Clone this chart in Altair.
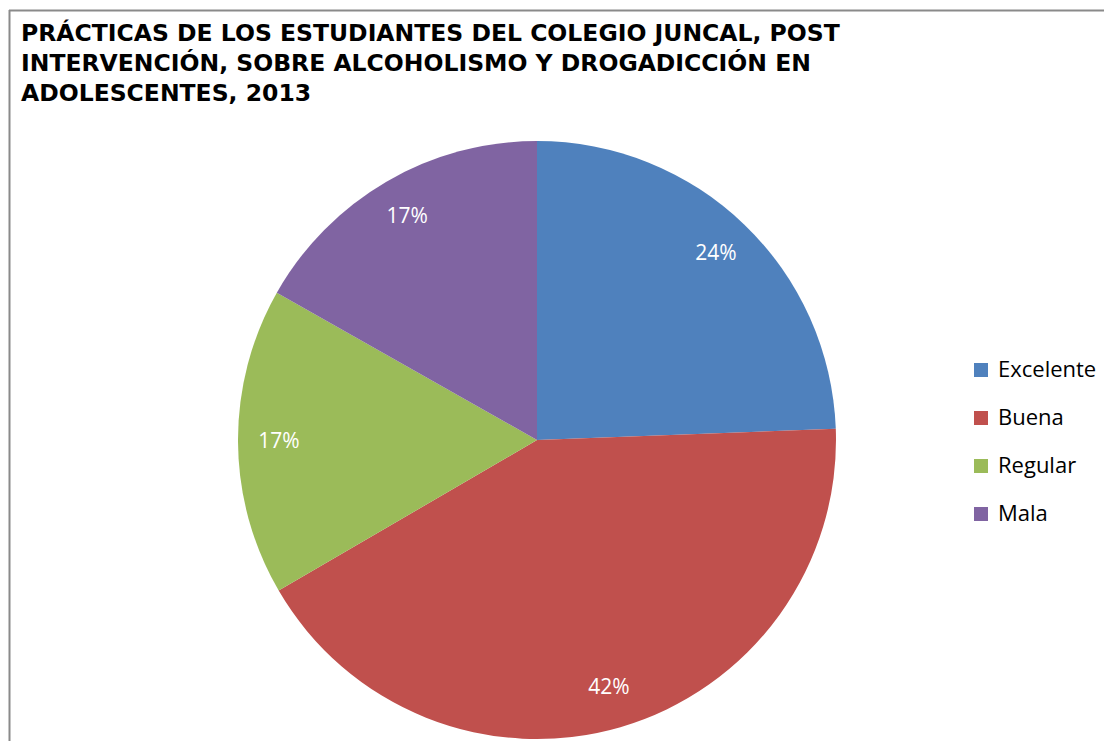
import altair as alt
import pandas as pd

TITLE_LINES = [
    "PRÁCTICAS DE LOS ESTUDIANTES DEL COLEGIO JUNCAL, POST",
    "INTERVENCIÓN, SOBRE ALCOHOLISMO Y DROGADICCIÓN EN",
    "ADOLESCENTES, 2013",
]
CATEGORIES = ["Excelente", "Buena", "Regular", "Mala"]
VALUES = [24.4, 42.2, 16.6, 16.8]
LABELS = ["24%", "42%", "17%", "17%"]
COLORS = ["#4F81BD", "#C0504D", "#9BBB59", "#8064A2"]

df = pd.DataFrame({
    "categoria": CATEGORIES,
    "valor": VALUES,
    "etiqueta": LABELS,
    "orden": list(range(len(CATEGORIES))),
})

W, H = 1096, 733
CX, CY, R = 529, 432, 299

color = alt.Color(
    "categoria:N",
    scale=alt.Scale(domain=CATEGORIES, range=COLORS),
    sort=CATEGORIES,
    legend=alt.Legend(
        title=None,
        orient="none",
        legendX=962,
        legendY=351,
        padding=0,
        symbolType="square",
        symbolSize=196,
        symbolStrokeWidth=0,
        labelFont="Open Sans",
        labelFontSize=22,
        labelColor="#000000",
        labelOffset=6,
        rowPadding=26,
    ),
)

base = alt.Chart(df).encode(
    theta=alt.Theta("valor:Q", stack=True),
    order=alt.Order("orden:Q"),
)

pie = base.mark_arc(outerRadius=R, stroke=None).encode(
    color=color,
    x=alt.value(CX),
    y=alt.value(CY),
)

labels = base.mark_text(
    font="Open Sans", fontSize=21, color="white", align="center", baseline="middle"
).encode(
    text="etiqueta:N",
    radius=alt.value(258),
    x=alt.value(CX),
    y=alt.value(CY),
)

one = alt.Data(values=[{}])
title_layers = [
    alt.Chart(one).mark_text(
        font="DejaVu Sans", fontSize=23.5, fontWeight="bold", color="#000000",
        align="left", baseline="alphabetic",
    ).encode(x=alt.value(13), y=alt.value(33 + 30 * i), text=alt.value(line))
    for i, line in enumerate(TITLE_LINES)
]

border_left = alt.Chart(one).mark_rule(color="#8a8a8a", strokeWidth=2).encode(
    x=alt.value(1.5), y=alt.value(2), y2=alt.value(H)
)
border_top = alt.Chart(one).mark_rule(color="#8a8a8a", strokeWidth=2).encode(
    x=alt.value(1), x2=alt.value(W), y=alt.value(2.5)
)

chart = alt.layer(pie, labels, border_left, border_top, *title_layers).properties(
    width=W, height=H, padding=0, autosize=alt.AutoSizeParams(type="none"),
    background="white",
).configure_view(stroke=None)

chart.save("out.html", embed_options={"renderer": "svg", "actions": False})
